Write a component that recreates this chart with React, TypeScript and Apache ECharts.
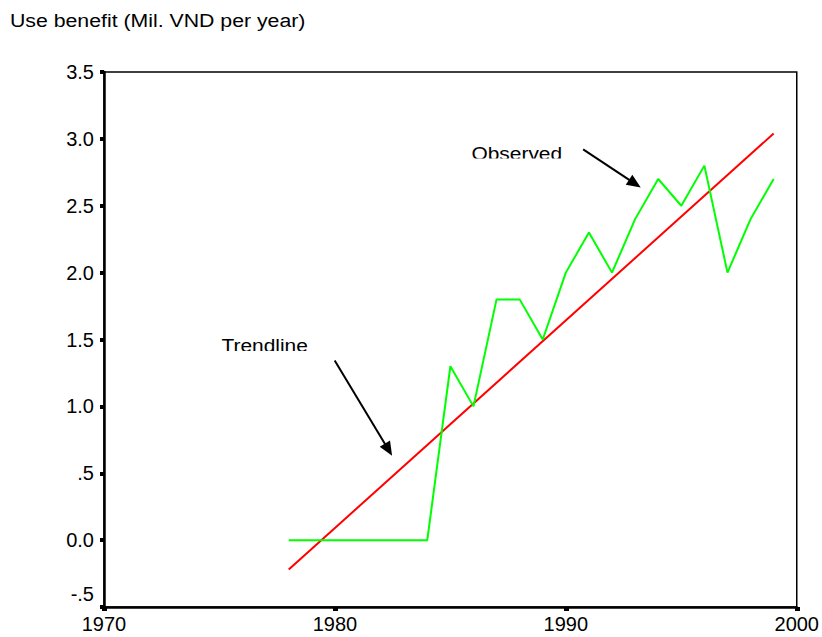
import React, { useEffect, useRef } from "react";
import * as echarts from "echarts";

const years = [1978, 1979, 1980, 1981, 1982, 1983, 1984, 1985, 1986, 1987, 1988, 1989, 1990, 1991, 1992, 1993, 1994, 1995, 1996, 1997, 1998, 1999];
const observed = [0.0, 0.0, 0.0, 0.0, 0.0, 0.0, 0.0, 1.3, 1.0, 1.8, 1.8, 1.5, 2.0, 2.3, 2.0, 2.4, 2.7, 2.5, 2.8, 2.0, 2.4, 2.7];
const trendYears = [1978, 1999];
const trendValues = [-0.22, 3.04];

const titleText = "Use benefit (Mil. VND per year)";
const observedLabel = "Observed";
const trendLabel = "Trendline";
// arrow start / end (data coordinates)
const observedArrow = [[1990.75, 2.921], [1992.99, 2.666]];
const trendArrow = [[1979.99, 1.343], [1982.32, 0.676]];

const FONT = "'Liberation Sans', Arial, Helvetica, sans-serif";

const fmtY = (v: number) => {
  if (Math.abs(v) < 1e-9) return "0.0";
  const s = v.toFixed(1).replace(/^(-?)0\./, "$1.");
  if (v < -0.25) return `{low|${s}}`;
  return s;
};

export default function App() {
  const ref = useRef<HTMLDivElement>(null);
  useEffect(() => {
    if (!ref.current) return;
    const chart = echarts.init(ref.current, undefined, { renderer: "svg" });
    chart.setOption({
      animation: false,
      backgroundColor: "#ffffff",
      grid: {
        left: 104,
        right: 24,
        top: 72,
        bottom: 30,
        show: true,
        borderColor: "#000",
        borderWidth: 1.5,
        backgroundColor: "transparent",
      },
      xAxis: {
        type: "value",
        min: 1970,
        max: 2000,
        interval: 10,
        axisLine: { show: true, onZero: false, lineStyle: { color: "#000", width: 2.5 } },
        axisTick: { show: true, length: 4, lineStyle: { color: "#000", width: 5 } },
        splitLine: { show: false },
        axisLabel: {
          color: "#000",
          fontSize: 20,
          fontFamily: FONT,
          margin: 7,
          formatter: (v: number) => String(v),
        },
      },
      yAxis: {
        type: "value",
        min: -0.5,
        max: 3.5,
        interval: 0.5,
        axisLine: { show: true, onZero: false, lineStyle: { color: "#000", width: 2.5 } },
        axisTick: { show: true, length: 4, lineStyle: { color: "#000", width: 4 } },
        splitLine: { show: false },
        axisLabel: {
          color: "#000",
          fontSize: 20,
          fontFamily: FONT,
          margin: 10,
          formatter: fmtY,
          rich: {
            low: { fontSize: 20, fontFamily: FONT, color: "#000", padding: [0, 0, 26, 0] },
          },
        },
      },
      series: [
        {
          type: "line",
          name: "Trendline",
          data: trendYears.map((y, i) => [y, trendValues[i]]),
          showSymbol: false,
          symbol: "none",
          lineStyle: { color: "#ff0000", width: 2 },
          silent: true,
          z: 2,
        },
        {
          type: "line",
          name: "Observed",
          data: years.map((y, i) => [y, observed[i]]),
          showSymbol: false,
          symbol: "none",
          lineStyle: { color: "#00ff00", width: 2 },
          silent: true,
          z: 3,
          markLine: {
            silent: true,
            symbol: ["none", "triangle"],
            symbolSize: [12, 14],
            label: { show: false },
            lineStyle: { color: "#000", width: 2, type: "solid" },
            emphasis: { disabled: true },
            data: [
              [{ coord: observedArrow[0] }, { coord: observedArrow[1] }],
              [{ coord: trendArrow[0] }, { coord: trendArrow[1] }],
            ],
          },
        },
      ],
      graphic: [
        {
          type: "text",
          x: 10,
          y: 20,
          scaleX: 1.12,
          style: { text: titleText, fill: "#000", font: `19px ${FONT}`, textVerticalAlign: "middle" },
        },
        {
          type: "text",
          x: 471.5,
          y: 153,
          scaleX: 1.1,
          z: 10,
          style: { text: observedLabel, fill: "#000", font: `19px ${FONT}`, textVerticalAlign: "middle" },
        },
        {
          type: "rect",
          z: 11,
          shape: { x: 465, y: 158.5, width: 105, height: 7 },
          style: { fill: "#fff" },
        },
        {
          type: "text",
          x: 221.5,
          y: 345,
          scaleX: 1.1,
          z: 10,
          style: { text: trendLabel, fill: "#000", font: `19px ${FONT}`, textVerticalAlign: "middle" },
        },
        {
          type: "rect",
          z: 11,
          shape: { x: 215, y: 351, width: 100, height: 7 },
          style: { fill: "#fff" },
        },
      ],
    });
    return () => chart.dispose();
  }, []);
  return (
    <div
      ref={ref}
      style={{ position: "fixed", left: 0, top: 0, width: 822, height: 637, background: "#fff" }}
    />
  );
}
